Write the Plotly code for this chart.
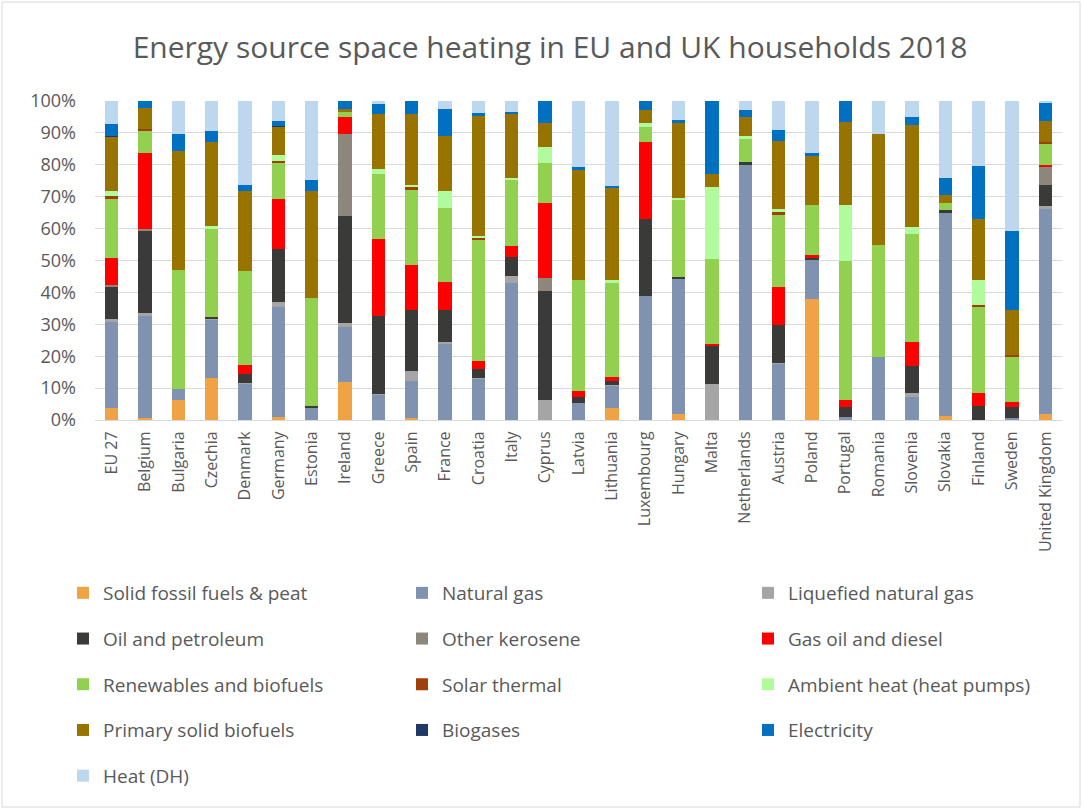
import plotly.graph_objects as go

countries = ["EU 27", "Belgium", "Bulgaria", "Czechia", "Denmark", "Germany", "Estonia",
             "Ireland", "Greece", "Spain", "France", "Croatia", "Italy", "Cyprus", "Latvia",
             "Lithuania", "Luxembourg", "Hungary", "Malta", "Netherlands", "Austria", "Poland",
             "Portugal", "Romania", "Slovenia", "Slovakia", "Finland", "Sweden", "United Kingdom"]

# Shares of household space heating by energy source (%), one list per source
solid_fossil = [3.7, 0.6, 6.3, 13.0, 0, 1.0, 0, 11.8, 0, 0.6, 0, 0, 0, 0, 0,
                3.7, 0, 1.9, 0, 0, 0, 37.9, 0, 0, 0, 1.4, 0, 0, 1.9]
natural_gas = [27.0, 31.9, 3.3, 18.4, 11.3, 34.5, 3.9, 17.2, 7.9, 11.7, 23.8, 13.1, 42.9, 0, 5.4,
               7.2, 38.8, 42.4, 0, 80.0, 17.6, 12.4, 1.0, 19.9, 7.3, 63.5, 0, 0.5, 64.4]
lng = [1.1, 1.2, 0, 0.4, 0.2, 1.5, 0, 1.5, 0.4, 3.2, 0.7, 0.2, 2.3, 6.2, 0,
       0.2, 0, 0, 11.4, 0, 0.4, 0, 0, 0, 1.1, 0.3, 0, 0, 0.9]
oil_petroleum = [10.1, 25.7, 0, 0.6, 3.0, 16.7, 0.6, 33.3, 24.4, 19.0, 10.1, 2.6, 5.9, 34.1, 1.9,
                 1.2, 24.2, 0.6, 12.0, 0.9, 11.7, 0.7, 3.0, 0, 8.6, 0.5, 4.5, 3.6, 6.5]
other_kerosene = [0.4, 0.4, 0, 0, 0, 0, 0, 25.9, 0, 0, 0, 0, 0, 4.1, 0,
                  0, 0, 0, 0, 0, 0, 0, 0, 0, 0, 0, 0, 0, 5.6]
gas_oil_diesel = [8.5, 24.0, 0, 0, 2.6, 15.7, 0, 5.3, 23.9, 14.0, 8.8, 2.6, 3.5, 23.5, 1.9,
                  1.1, 24.2, 0, 0.5, 0, 11.9, 0.6, 2.2, 0, 7.4, 0, 4.0, 1.4, 0.7]
renewables = [18.8, 7.1, 37.5, 27.4, 29.5, 11.4, 33.7, 1.4, 20.5, 23.8, 23.0, 38.0, 20.7, 12.8, 34.6,
              29.5, 4.8, 24.2, 26.6, 7.1, 22.8, 15.8, 43.7, 35.0, 34.0, 2.2, 27.1, 14.5, 6.7]
solar_thermal = [0.6, 0.4, 0, 0, 0, 0.5, 0, 0, 0, 0.6, 0, 0.7, 0, 0, 0,
                 0, 0, 0, 0, 0, 0.9, 0, 0, 0, 0, 0, 0.4, 0.3, 0.5]
ambient_heat = [1.7, 0, 0, 1.0, 0, 1.7, 0, 0, 1.7, 0.8, 5.5, 0.4, 0.5, 5.0, 0,
                1.1, 1.1, 0.4, 22.5, 0.9, 1.0, 0, 17.5, 0, 2.0, 0, 7.8, 0, 0]
solid_biofuels = [17.1, 6.6, 37.1, 26.3, 25.3, 8.9, 33.7, 1.2, 17.2, 22.3, 17.1, 37.7, 20.2, 7.4, 34.8,
                  28.7, 4.1, 23.9, 4.1, 6.1, 21.2, 15.3, 26.1, 34.8, 32.0, 2.7, 19.2, 14.3, 6.5]
biogases = [0.1, 0, 0, 0, 0, 0.2, 0, 0, 0, 0, 0, 0, 0, 0, 0,
            0, 0, 0, 0, 0, 0, 0, 0, 0, 0, 0, 0, 0, 0]
electricity = [3.8, 2.1, 5.6, 3.3, 1.8, 1.6, 3.4, 2.4, 3.0, 4.0, 8.6, 1.0, 0.4, 6.9, 0.6,
               0.7, 2.8, 0.5, 22.9, 2.2, 3.4, 0.9, 6.5, 0, 2.6, 5.4, 16.7, 24.8, 5.6]
heat_dh = [7.2, 0, 10.2, 9.5, 26.3, 6.3, 24.7, 0, 1.0, 0, 2.4, 3.7, 3.6, 0, 20.8,
           26.6, 0, 6.1, 0, 2.8, 9.1, 16.4, 0, 10.3, 5.0, 24.0, 20.3, 40.6, 0.7]

series = [
    ("Solid fossil fuels & peat", solid_fossil, "#EFA345", "legend"),
    ("Natural gas", natural_gas, "#7F93B0", "legend2"),
    ("Liquefied natural gas", lng, "#A5A5A5", "legend3"),
    ("Oil and petroleum", oil_petroleum, "#3A3A38", "legend"),
    ("Other kerosene", other_kerosene, "#8C867C", "legend2"),
    ("Gas oil and diesel", gas_oil_diesel, "#FF0000", "legend3"),
    ("Renewables and biofuels", renewables, "#92D050", "legend"),
    ("Solar thermal", solar_thermal, "#9E3F0C", "legend2"),
    ("Ambient heat (heat pumps)", ambient_heat, "#B0FC9C", "legend3"),
    ("Primary solid biofuels", solid_biofuels, "#997300", "legend"),
    ("Biogases", biogases, "#203864", "legend2"),
    ("Electricity", electricity, "#0070C0", "legend3"),
    ("Heat (DH)", heat_dh, "#BDD7EE", "legend"),
]

FONT = "Open Sans"
GREY = "#595959"

fig = go.Figure()
for name, values, color, leg in series:
    fig.add_trace(go.Bar(
        x=countries, y=values, name=name, marker=dict(color=color, line=dict(width=0)),
        legend=leg, legendgroup=name,
    ))

W, H = 1082, 809
L, R, T, B = 95, 20, 101, 389
pw, ph = W - L - R, H - T - B


def px_x(x):
    return (x - L) / pw


def px_y(y):
    return (H - B - y) / ph


legend_style = dict(
    orientation="v", traceorder="grouped", tracegroupgap=18,
    font=dict(family=FONT, size=19, color=GREY),
    bgcolor="rgba(0,0,0,0)", itemwidth=30, yanchor="top", xanchor="left",
)

fig.update_layout(
    width=W, height=H,
    margin=dict(l=L, r=R, t=T, b=B, autoexpand=False),
    barmode="stack", barnorm="percent", bargap=0.6,
    paper_bgcolor="white", plot_bgcolor="white",
    font=dict(family=FONT, color=GREY),
    title=dict(text="Energy source space heating in EU and UK households 2018",
               x=550 / W, xanchor="center", y=1 - 47 / H, yanchor="middle",
               font=dict(family=FONT, size=30, color=GREY)),
    xaxis=dict(tickangle=-90, tickfont=dict(family=FONT, size=16, color=GREY),
               showline=True, linecolor="#D9D9D9", linewidth=1, ticks="",
               showgrid=False, ticklabelstandoff=4),
    yaxis=dict(range=[0, 100], dtick=10, ticksuffix="%",
               tickfont=dict(family=FONT, size=18, color=GREY),
               showgrid=True, gridcolor="#D9D9D9", gridwidth=1,
               zeroline=False, showline=False, ticks="", ticklabelstandoff=18),
    legend=dict(legend_style, x=px_x(63), y=px_y(574)),
    legend2=dict(legend_style, x=px_x(402), y=px_y(574)),
    legend3=dict(legend_style, x=px_x(748), y=px_y(574)),
    showlegend=True,
    shapes=[dict(type="rect", xref="paper", yref="paper", layer="below",
                 x0=px_x(2), x1=px_x(W - 2), y0=px_y(H - 2), y1=px_y(2),
                 line=dict(color="#D9D9D9", width=1))],
)

fig.write_html("out.html")
